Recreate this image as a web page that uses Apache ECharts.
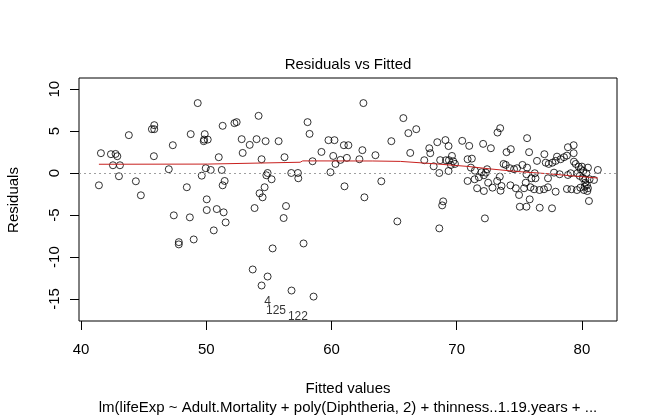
<!DOCTYPE html>
<html>
<head>
<meta charset="utf-8">
<script src="https://cdn.jsdelivr.net/npm/echarts@6/dist/echarts.min.js"></script>
<style>
html,body{margin:0;padding:0;background:#fff;}
#c{width:659px;height:419px;}
</style>
</head>
<body>
<div id="c"></div>
<script>
// Fitted values (x) and residuals (y)
const fitted = [
 49.32,43.82,45.66,45.85,45.85,48.76,49.88,49.80,49.83,50.12,47.33,41.59,42.39,42.76,42.90,45.82,42.55,43.11,47.01,49.96,50.36,49.64,43.03,41.43,44.38,48.45,44.78,50.04,50.04,50.84,47.41,48.69,50.60,49.00,47.81,47.81,
 54.18,51.31,52.25,52.43,58.09,58.25,52.83,53.47,54.02,54.74,55.78,52.91,51.00,54.42,56.25,58.49,59.76,60.24,60.99,61.35,59.20,60.14,60.72,60.32,61.23,51.24,54.90,54.80,55.22,56.79,57.32,57.35,59.92,51.47,51.31,54.66,54.26,54.50,61.04,51.39,51.55,53.86,56.37,56.18,55.30,57.77,53.71,54.90,54.42,56.81,58.57,
 62.55,65.74,66.14,66.77,64.78,62.47,63.51,66.29,62.23,67.81,67.89,68.45,69.10,69.35,67.41,68.16,68.61,68.68,69.14,69.38,69.35,63.98,62.63,65.26,68.92,68.84,68.61,
 73.47,73.26,75.62,70.44,71.00,72.11,72.73,74.32,73.98,75.78,69.62,70.87,71.21,69.72,69.86,69.54,71.13,71.45,71.98,72.43,72.33,73.74,73.92,74.24,74.58,74.82,75.25,75.62,70.87,71.43,71.77,72.17,72.51,72.86,73.23,73.44,73.58,73.50,71.63,72.17,74.29,74.72,74.98,75.38,75.51,75.04,75.83,72.25,
 79.34,78.88,77.00,76.41,78.01,78.30,78.57,78.80,79.34,77.11,77.35,77.64,77.90,79.36,79.50,79.74,80.00,79.90,80.11,80.48,80.35,81.27,76.23,75.97,76.29,77.29,75.57,77.77,78.22,78.88,79.10,79.63,79.82,80.08,80.27,80.61,80.96,80.27,80.40,80.22,80.48,80.16,80.43,75.89,76.18,76.61,76.97,77.29,77.90,78.80,79.16,79.60,79.87,75.57,76.63,77.61,80.56
];
const residuals = [
 8.35,4.53,5.24,5.24,5.72,4.65,4.65,3.81,4.00,4.00,3.33,2.38,2.26,2.29,2.02,2.02,0.94,0.94,0.47,0.59,0.38,-0.30,-0.37,-1.45,-0.97,-1.68,-2.64,-3.12,-4.40,-4.28,-5.03,-5.27,-6.82,-7.90,-8.22,-8.49,
 6.83,5.64,5.96,6.08,6.08,4.68,4.05,3.37,4.05,3.81,3.81,2.41,1.90,1.66,1.90,1.42,3.93,3.93,3.33,3.33,2.53,2.05,1.58,1.10,1.82,0.38,0.02,-0.25,-0.73,0.02,0.02,-0.61,0.11,-0.93,-1.45,-1.68,-2.40,-2.88,-1.57,-4.67,-5.87,-4.16,-3.92,-5.35,-8.97,-8.38,-11.48,-12.32,-13.39,-13.99,-14.71,
 8.35,6.56,4.77,5.24,3.81,2.74,2.14,2.41,1.66,2.97,2.38,3.69,3.94,3.23,1.54,0.82,0.02,1.55,1.54,1.54,0.26,-0.97,-2.88,-5.75,-3.36,-3.84,-6.58,
 5.36,4.84,4.17,3.85,3.25,3.49,2.97,2.86,2.50,2.50,2.05,1.66,1.73,1.42,1.10,0.98,0.66,0.30,0.11,0.47,0.06,1.10,0.98,0.59,0.47,0.59,0.98,0.66,-0.93,-0.73,-0.49,-0.25,-1.14,-1.73,-0.93,-0.42,-1.53,-2.09,-1.80,-2.13,-1.45,-1.80,-2.60,-1.80,-1.14,-4.00,-3.12,-5.39,
 3.33,3.09,2.26,1.46,1.97,1.66,1.90,2.09,2.38,1.25,1.10,1.25,1.46,1.37,1.10,0.78,0.78,0.47,0.26,0.66,-0.01,0.38,-0.01,-0.61,-0.61,-0.61,-0.13,0.06,-0.13,-0.22,-0.01,-0.01,-0.33,-0.61,-0.73,-0.73,-0.81,-1.14,-1.41,-1.61,-1.80,-2.01,-2.13,-1.68,-1.92,-2.01,-1.92,-1.68,-2.21,-1.89,-1.92,-2.01,-1.73,-4.00,-4.12,-4.19,-3.32
];
// Smoother (red line)
const smoothX = [41.43,50.1,50.2,57.5,57.7,63.3,65.5,68.4,70.9,72.7,74.8,77.4,79.0,81.27];
const smoothY = [1.06,1.08,1.30,1.30,1.46,1.45,1.40,1.10,0.80,0.50,0.20,-0.08,-0.30,-0.58];
// Labelled observations
const idNames = ['4','125','122'];
const idX = [54.90,55.57,57.32];
const idY = [-15.35,-16.34,-17.14];
// Ticks
const xTicks = [40,50,60,70,80];
const yTicks = [-15,-10,-5,0,5,10];
const titleText = 'Residuals vs Fitted';
const xName = 'Fitted values';
const yName = 'Residuals';
const subText = 'lm(lifeExp ~ Adult.Mortality + poly(Diphtheria, 2) + thinness..1.19.years + ...';

const FONT = '"Liberation Sans", Arial, sans-serif';
const pts = fitted.map((f,i)=>[f,residuals[i]]);
const smooth = smoothX.map((x,i)=>[x,smoothY[i]]);
const ids = idNames.map((n,i)=>({name:n,value:[idX[i],idY[i]]}));

const chart = echarts.init(document.getElementById('c'), null, {renderer:'canvas'});
chart.setOption({
  animation:false,
  backgroundColor:'#fff',
  grid:{left:79,right:42,top:78,bottom:98,show:true,borderColor:'#000',borderWidth:1,backgroundColor:'transparent'},
  xAxis:{type:'value',min:39.84,max:82.8,
    axisLine:{show:false,onZero:false},
    splitLine:{show:false},
    axisTick:{show:true,length:9,lineStyle:{color:'#000',width:1},customValues:xTicks},
    axisLabel:{color:'#000',fontFamily:FONT,fontSize:15,margin:21,customValues:xTicks}
  },
  yAxis:{type:'value',min:-17.62,max:11.34,
    axisLine:{show:false,onZero:false},
    splitLine:{show:false},
    axisTick:{show:true,length:9,lineStyle:{color:'#000',width:1},customValues:yTicks},
    axisLabel:{color:'#000',fontFamily:FONT,fontSize:15,margin:17,rotate:90,customValues:yTicks}
  },
  graphic:[
    {type:'text',x:348,y:65,style:{text:titleText,fill:'#000',font:'15px '+FONT,textAlign:'center',textVerticalAlign:'middle'}},
    {type:'text',x:348,y:389,style:{text:xName,fill:'#000',font:'15px '+FONT,textAlign:'center',textVerticalAlign:'middle'}},
    {type:'text',x:348,y:408,style:{text:subText,fill:'#000',font:'15px '+FONT,textAlign:'center',textVerticalAlign:'middle'}},
    {type:'text',x:14,y:200,rotation:Math.PI/2,style:{text:yName,fill:'#000',font:'15px '+FONT,textAlign:'center',textVerticalAlign:'middle'}}
  ],
  series:[
    {type:'line',data:[],markLine:{silent:true,symbol:'none',label:{show:false},
      lineStyle:{color:'#a0a0a0',type:[2,3],width:1},data:[{yAxis:0}]}},
    {type:'scatter',data:pts,symbol:'circle',symbolSize:7,
      itemStyle:{color:'rgba(0,0,0,0)',borderColor:'#000',borderWidth:1}},
    {type:'line',data:smooth,showSymbol:false,symbol:'none',
      lineStyle:{color:'#c8201e',width:1}},
    {type:'scatter',data:ids,symbolSize:0,
      label:{show:true,position:'inside',formatter:'{b}',color:'#000',fontFamily:FONT,fontSize:12}}
  ]
});
</script>
</body>
</html>
